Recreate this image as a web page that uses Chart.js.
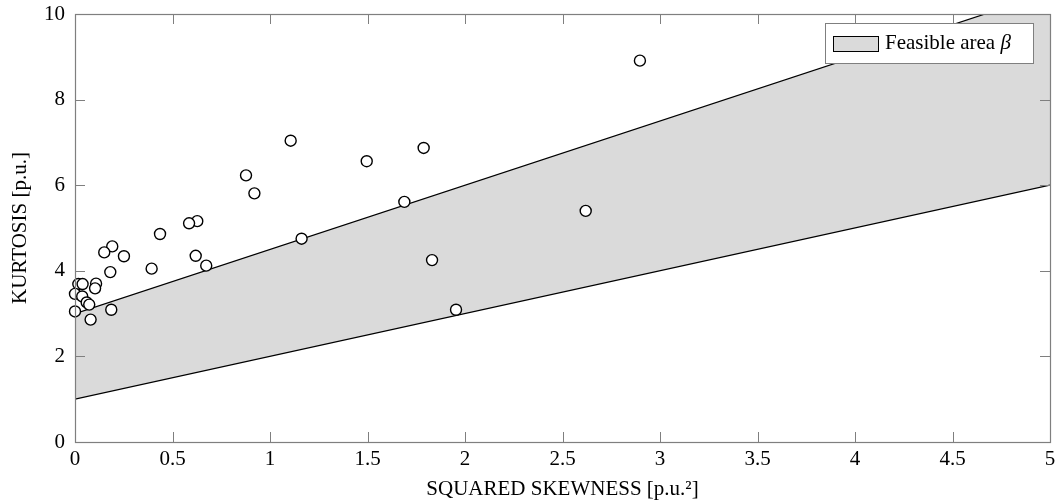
<!DOCTYPE html>
<html>
<head>
<meta charset="utf-8">
<script src="https://cdn.jsdelivr.net/npm/chart.js@4.4.1/dist/chart.umd.min.js"></script>
<style>
  html, body { margin: 0; padding: 0; background: #fff; }
  #wrap { width: 1058px; height: 504px; }
</style>
</head>
<body>
<div id="wrap"><canvas id="kurtChart" width="1058" height="504"></canvas></div>
<script>
// --- data ---
const skewSq = [2.897, 1.106, 1.788, 1.496, 0.877, 0.920, 1.689, 2.619, 0.627, 0.585,
                0.436, 1.162, 0.191, 0.150, 0.619, 0.251, 1.831, 0.673, 0.393, 0.181,
                0.017, 0.039, 0.108, 0.103, 0.000, 0.037, 0.060, 0.073, 0.000, 0.186,
                0.080, 1.954];
const kurtosis = [8.91, 7.04, 6.87, 6.56, 6.23, 5.81, 5.61, 5.40, 5.16, 5.11,
                  4.86, 4.75, 4.57, 4.43, 4.35, 4.34, 4.25, 4.12, 4.05, 3.97,
                  3.69, 3.69, 3.70, 3.59, 3.46, 3.40, 3.26, 3.21, 3.05, 3.09,
                  2.86, 3.09];

// feasible area boundaries
const boundX = [0, 5];
const lowerBound = [1, 6];
const upperBound = [3, 10.5];

const xTicks = [0, 0.5, 1, 1.5, 2, 2.5, 3, 3.5, 4, 4.5, 5];
const yTicks = [0, 2, 4, 6, 8, 10];

const serif = '"Liberation Serif", "DejaVu Serif", serif';
const axisGray = '#7f7f7f';
const areaGray = '#dadada';

// frame with inward ticks on all four sides
const framePlugin = {
    id: 'frame',
    afterDatasetsDraw(chart) {
        const { ctx, chartArea: a, scales: { x, y } } = chart;
        ctx.save();
        ctx.strokeStyle = axisGray;
        ctx.lineWidth = 1;
        ctx.beginPath();
        xTicks.forEach(v => {
            const px = Math.round(x.getPixelForValue(v)) + 0.5;
            ctx.moveTo(px, a.bottom); ctx.lineTo(px, a.bottom - 10);
            ctx.moveTo(px, a.top); ctx.lineTo(px, a.top + 10);
        });
        yTicks.forEach(v => {
            const py = Math.round(y.getPixelForValue(v)) + 0.5;
            ctx.moveTo(a.left, py); ctx.lineTo(a.left + 10, py);
            ctx.moveTo(a.right, py); ctx.lineTo(a.right - 10, py);
        });
        ctx.stroke();
        ctx.lineWidth = 1.2;
        ctx.strokeRect(Math.round(a.left) + 0.5, Math.round(a.top) + 0.5,
                       Math.round(a.right - a.left), Math.round(a.bottom - a.top));
        ctx.restore();
    }
};

// legend box drawn inside the plot, top right
const legendPlugin = {
    id: 'boxLegend',
    afterDraw(chart) {
        const { ctx, chartArea: a } = chart;
        const w = 208, h = 40;
        const bx = a.right - 17 - w, by = a.top + 9;
        ctx.save();
        ctx.fillStyle = '#fff';
        ctx.fillRect(bx, by, w, h);
        ctx.strokeStyle = axisGray;
        ctx.lineWidth = 1;
        ctx.strokeRect(bx + 0.5, by + 0.5, w, h);
        ctx.fillStyle = areaGray;
        ctx.fillRect(bx + 8, by + 13, 45, 15);
        ctx.strokeStyle = '#000';
        ctx.strokeRect(bx + 8.5, by + 13.5, 45, 15);
        ctx.fillStyle = '#000';
        ctx.textBaseline = 'alphabetic';
        ctx.font = '21px ' + serif;
        const label = 'Feasible area ';
        ctx.fillText(label, bx + 60, by + 26);
        const lw = ctx.measureText(label).width;
        ctx.font = 'italic 21px ' + serif;
        ctx.fillText('β', bx + 60 + lw, by + 26);
        ctx.restore();
    }
};

const ctx = document.getElementById('kurtChart').getContext('2d');

new Chart(ctx, {
    type: 'scatter',
    data: {
        datasets: [{
            label: 'Measurements',
            data: skewSq.map((v, i) => ({ x: v, y: kurtosis[i] })),
            pointRadius: 5.5,
            pointBorderWidth: 1.4,
            pointBorderColor: '#000',
            pointBackgroundColor: '#fff',
            clip: false,
            order: 0
        }, {
            label: 'Lower bound',
            data: boundX.map((v, i) => ({ x: v, y: lowerBound[i] })),
            showLine: true,
            borderColor: '#000',
            borderWidth: 1.2,
            pointRadius: 0,
            fill: false,
            order: 1
        }, {
            label: 'Feasible area',
            data: boundX.map((v, i) => ({ x: v, y: upperBound[i] })),
            showLine: true,
            borderColor: '#000',
            borderWidth: 1.2,
            pointRadius: 0,
            backgroundColor: areaGray,
            fill: '-1',
            order: 2
        }]
    },
    options: {
        responsive: false,
        animation: false,
        layout: { padding: { top: 14, right: 8, left: 0, bottom: 0 } },
        plugins: {
            legend: { display: false },
            tooltip: { enabled: false },
            filler: { propagate: false }
        },
        scales: {
            x: {
                type: 'linear',
                min: 0, max: 5,
                afterBuildTicks: s => { s.ticks = xTicks.map(v => ({ value: v })); },
                afterFit: s => { s.height = 62; s.paddingLeft = 0; s.paddingRight = 0; },
                grid: { display: false, drawTicks: false },
                border: { display: false },
                ticks: {
                    color: '#000', padding: 5,
                    font: { family: serif, size: 21 },
                    callback: v => String(v)
                },
                title: {
                    display: true,
                    text: 'SQUARED SKEWNESS [p.u.²]',
                    color: '#000',
                    font: { family: serif, size: 21 },
                    padding: { top: 0, bottom: 2 }
                }
            },
            y: {
                type: 'linear',
                min: 0, max: 10,
                afterBuildTicks: s => { s.ticks = yTicks.map(v => ({ value: v })); },
                afterFit: s => { s.width = 75; s.paddingTop = 0; s.paddingBottom = 0; },
                grid: { display: false, drawTicks: false },
                border: { display: false },
                ticks: {
                    color: '#000', padding: 10,
                    font: { family: serif, size: 21 },
                    callback: v => String(v)
                },
                title: {
                    display: true,
                    text: 'KURTOSIS [p.u.]',
                    color: '#000',
                    font: { family: serif, size: 21 },
                    padding: { top: 8, bottom: 0 }
                }
            }
        }
    },
    plugins: [framePlugin, legendPlugin]
});
</script>
</body>
</html>
